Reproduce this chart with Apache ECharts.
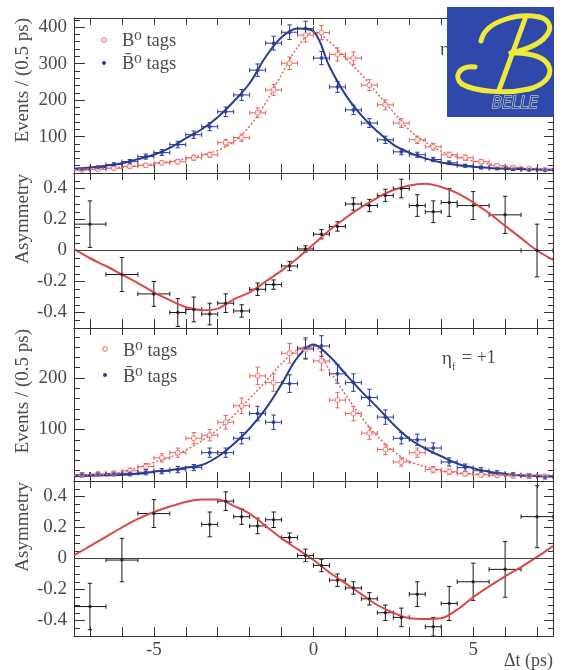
<!DOCTYPE html>
<html><head><meta charset="utf-8">
<script src="https://cdn.jsdelivr.net/npm/echarts@6/dist/echarts.min.js"></script>
<style>html,body{margin:0;padding:0;background:#fff}#c{width:577px;height:670px}</style>
</head><body><div id="c"></div>
<script>
// ---------- data ----------
const binX = [-7.25,-6.75,-6.25,-5.75,-5.25,-4.75,-4.25,-3.75,-3.25,-2.75,-2.25,-1.75,-1.25,-0.75,-0.25,0.25,0.75,1.25,1.75,2.25,2.75,3.25,3.75,4.25,4.75,5.25,5.75,6.25,6.75,7.25];
const binHalf = 0.25;
const curveX = [-7.5,-7,-6.5,-6,-5.5,-5,-4.5,-4,-3.5,-3,-2.5,-2,-1.5,-1,-0.5,0,0.5,1,1.5,2,2.5,3,3.5,4,4.5,5,5.5,6,6.5,7,7.5];

// panel 1 (eta_f = -1) events
const p1Red     = [8,10,13,18,21,28,31,42,50,83,97,165,228,301,378,385,325,315,241,187,137,91,72,50,42,31,20,15,12,9];
const p1RedErr  = [3,3,4,4,5,5,6,7,7,9,10,13,15,17,19,19,18,17,15,14,12,10,9,7,7,6,5,4,4,3];
const p1Blue    = [10,15,23,31,45,56,78,105,127,168,214,282,356,386,396,315,236,173,137,91,58,50,37,28,20,15,12,10,9,8];
const p1BlueErr = [3,4,5,6,7,8,9,10,11,13,15,17,19,20,20,18,15,13,12,10,8,7,6,5,4,4,3,3,3,3];
const p1RedFit  = [9,11,13,16,20,25,31,39,49,62,86,128,192,270,345,386,360,315,270,218,167,118,85,60,44,33,25,19,15,12,10];
const p1BlueFit = [12,15,20,27,38,50,69,95,120,153,196,246,318,372,396,388,292,215,158,114,78,56,40,29,22,17,14,12,11,10,9];

// panel 2 asymmetry
const p2X    = [-7,-6,-5,-4.25,-3.75,-3.25,-2.75,-2.25,-1.75,-1.25,-0.75,-0.25,0.25,0.75,1.25,1.75,2.25,2.75,3.25,3.75,4.25,5,6,7];
const p2Half = [0.5,0.5,0.5,0.25,0.25,0.25,0.25,0.25,0.25,0.25,0.25,0.25,0.25,0.25,0.25,0.25,0.25,0.25,0.25,0.25,0.25,0.5,0.5,0.5];
const p2Asym = [0.17,-0.155,-0.28,-0.40,-0.38,-0.41,-0.34,-0.39,-0.25,-0.22,-0.10,0.01,0.105,0.155,0.30,0.29,0.355,0.40,0.29,0.25,0.31,0.29,0.23,0.0];
const p2Err  = [0.15,0.11,0.08,0.09,0.08,0.07,0.06,0.04,0.04,0.03,0.03,0.02,0.03,0.03,0.04,0.04,0.04,0.06,0.07,0.07,0.09,0.09,0.12,0.17];
const p2Fit  = [0.01,-0.05,-0.10,-0.155,-0.21,-0.27,-0.32,-0.365,-0.385,-0.375,-0.315,-0.27,-0.20,-0.13,-0.05,0.04,0.13,0.21,0.28,0.34,0.39,0.42,0.43,0.41,0.37,0.31,0.24,0.16,0.08,0.0,-0.06];

// panel 3 (eta_f = +1) events
const p3Red     = [12,13,15,20,28,45,55,83,89,114,146,204,191,248,255,233,157,131,93,61,37,55,22,18,14,12,11,10,10,9];
const p3RedErr  = [4,4,4,5,6,8,9,11,11,13,15,17,17,19,19,18,15,14,12,10,8,9,6,5,4,4,4,4,4,3];
const p3Blue    = [12,13,14,15,17,19,22,26,55,55,83,131,114,189,258,262,208,191,162,124,83,80,64,37,26,20,15,12,10,8];
const p3BlueErr = [4,4,4,5,5,5,6,6,9,9,11,14,14,17,20,20,18,17,16,14,11,11,10,8,7,6,5,4,4,4];
const p3RedFit  = [11,12,13,17,26,36,46,60,78,100,127,160,193,228,255,262,215,168,124,87,58,38,28,20,16,14,13,12,12,11,11];
const p3BlueFit = [9,10,11,12,14,18,21,26,31,47,72,102,140,188,240,265,242,208,174,143,110,82,63,48,34,25,18,14,11,10,9];

// panel 4 asymmetry
const p4X    = [-7,-6,-5,-3.25,-2.75,-2.25,-1.75,-1.25,-0.75,-0.25,0.25,0.75,1.25,1.75,2.25,2.75,3.25,3.75,4.25,5,6,7];
const p4Half = [0.5,0.5,0.5,0.25,0.25,0.25,0.25,0.25,0.25,0.25,0.25,0.25,0.25,0.25,0.25,0.25,0.25,0.25,0.25,0.5,0.5,0.5];
const p4Asym = [-0.31,-0.01,0.29,0.22,0.37,0.27,0.21,0.25,0.135,0.02,-0.045,-0.14,-0.19,-0.26,-0.35,-0.38,-0.23,-0.44,-0.29,-0.15,-0.07,0.27];
const p4Err  = [0.15,0.14,0.09,0.08,0.06,0.05,0.05,0.05,0.03,0.04,0.04,0.04,0.04,0.04,0.05,0.06,0.08,0.06,0.11,0.12,0.18,0.2];
const p4Fit  = [0.02,0.08,0.14,0.20,0.255,0.30,0.335,0.365,0.38,0.38,0.34,0.29,0.21,0.13,0.06,-0.01,-0.09,-0.16,-0.23,-0.30,-0.35,-0.385,-0.39,-0.385,-0.33,-0.25,-0.18,-0.115,-0.055,0.01,0.08];

// ticks / labels
const xTickVals  = [-7,-6,-5,-4,-3,-2,-1,0,1,2,3,4,5,6,7];
const xLabelVals = [-5,0,5];
const ev1Major = [0,100,200,300,400];
const ev1Minor = [20,40,60,80,120,140,160,180,220,240,260,280,320,340,360,380,420];
const ev1Labels = [100,200,300,400];
const ev3Major = [0,100,200];
const ev3Minor = [20,40,60,80,120,140,160,180,220,240,260,280];
const ev3Labels = [100,200];
const asMajor = [-0.4,-0.2,0,0.2,0.4];
const asMinor = [-0.45,-0.35,-0.3,-0.25,-0.15,-0.1,-0.05,0.05,0.1,0.15,0.25,0.3,0.35,0.45];
const asLabels = [-0.4,-0.2,0,0.2,0.4];

// ---------- style ----------
const serif = "'Liberation Serif','DejaVu Serif',serif";
const AX = '#333';
const LBL = '#4a4a4a';
const RED = '#e2645e';
const BLUE = '#2b3b92';
const FITRED = '#d8484a';
const BLK = '#1a1a1a';
const YEL = '#eeea3a';

const grids = [
  {left:74, right:24, top:18, height:155},
  {left:74, right:24, top:173, height:155},
  {left:74, right:24, top:328, height:153},
  {left:74, right:24, top:481, height:155}
];
const yRanges = [[0,425],[-0.5,0.5],[0,297],[-0.5,0.5]];
const yTickSets = [[ev1Major,ev1Minor,ev1Labels],[asMajor,asMinor,asLabels],[ev3Major,ev3Minor,ev3Labels],[asMajor,asMinor,asLabels]];

const xAxis = [], yAxis = [];
grids.forEach((g,i)=>{
  xAxis.push({type:'value', gridIndex:i, position:'bottom', min:-7.5, max:7.5,
    axisLine:{show:true,onZero:false,lineStyle:{color:AX,width:1}},
    axisTick:{show:true,inside:true,length:9,customValues:xTickVals,lineStyle:{color:AX}},
    axisLabel:{show:i===3,customValues:xLabelVals,margin:5,fontFamily:serif,fontSize:19,color:LBL},
    splitLine:{show:false}});
  xAxis.push({type:'value', gridIndex:i, position:'top', min:-7.5, max:7.5,
    axisLine:{show:true,onZero:false,lineStyle:{color:AX,width:1}},
    axisTick:{show:true,inside:true,length:7,customValues:xTickVals,lineStyle:{color:AX}},
    axisLabel:{show:false}, splitLine:{show:false}});
  const [mn,mx] = yRanges[i];
  const [maj,minr,lab] = yTickSets[i];
  const mk = (pos,ticks,len,labels)=>({type:'value', gridIndex:i, position:pos, min:mn, max:mx,
    axisLine:{show:true,onZero:false,lineStyle:{color:AX,width:1}},
    axisTick:{show:true,inside:true,length:len,customValues:ticks,lineStyle:{color:AX}},
    axisLabel: labels ? {show:true,customValues:labels,margin:7,fontFamily:serif,fontSize:19,color:LBL} : {show:false},
    splitLine:{show:false}});
  yAxis.push(mk('left',maj,11,lab));
  yAxis.push(mk('left',minr,6,null));
  yAxis.push(mk('right',maj,9,null));
  yAxis.push(mk('right',minr,5,null));
});

function errBars(gi, xs, ys, xh, yh, color){
  const data = xs.map((x,k)=>[x, ys[k], x-(Array.isArray(xh)?xh[k]:xh), x+(Array.isArray(xh)?xh[k]:xh), ys[k]-yh[k], ys[k]+yh[k]]);
  return {type:'custom', xAxisIndex:gi*2, yAxisIndex:gi*4, data, silent:true, z:3, clip:true,
    encode:{x:[0,2,3], y:[1,4,5]},
    renderItem(params, api){
      const x=api.value(0), y=api.value(1);
      const l=api.coord([api.value(2),y]), r=api.coord([api.value(3),y]);
      const b=api.coord([x,api.value(4)]), t=api.coord([x,api.value(5)]);
      const st={stroke:color,lineWidth:1};
      const c=2.2;
      return {type:'group', children:[
        {type:'line',shape:{x1:l[0],y1:l[1],x2:r[0],y2:r[1]},style:st},
        {type:'line',shape:{x1:b[0],y1:b[1],x2:t[0],y2:t[1]},style:st},
        {type:'line',shape:{x1:l[0],y1:l[1]-c,x2:l[0],y2:l[1]+c},style:st},
        {type:'line',shape:{x1:r[0],y1:r[1]-c,x2:r[0],y2:r[1]+c},style:st},
        {type:'line',shape:{x1:b[0]-c,y1:b[1],x2:b[0]+c,y2:b[1]},style:st},
        {type:'line',shape:{x1:t[0]-c,y1:t[1],x2:t[0]+c,y2:t[1]},style:st}
      ]};
    }};
}
function fitLine(gi, vals, color, width, dash, extra){
  return Object.assign({type:'line', xAxisIndex:gi*2, yAxisIndex:gi*4, data:curveX.map((x,k)=>[x,vals[k]]),
    smooth:0.35, showSymbol:false, silent:true, z:4,
    lineStyle:{color, width, type:dash}}, extra||{});
}
function pts(gi, xs, ys, open, color, size){
  return {type:'scatter', xAxisIndex:gi*2, yAxisIndex:gi*4, data:xs.map((x,k)=>[x,ys[k]]), symbol:'circle',
    symbolSize:size, silent:true, z:5,
    itemStyle: open ? {color:'#fff',borderColor:color,borderWidth:1} : {color}};
}
const zeroMark = {silent:true, symbol:'none', data:[{yAxis:0}], label:{show:false},
  lineStyle:{color:'#444',width:1,type:'solid'}, animation:false};

const series = [
  fitLine(0,p1BlueFit,BLUE,2,'solid'),
  fitLine(0,p1RedFit,RED,1.5,[2,2]),
  errBars(0,binX,p1Red,binHalf,p1RedErr,RED),
  errBars(0,binX,p1Blue,binHalf,p1BlueErr,BLUE),
  pts(0,binX,p1Red,true,RED,5),
  pts(0,binX,p1Blue,false,BLUE,4),

  fitLine(1,p2Fit,FITRED,2,'solid',{markLine:zeroMark}),
  errBars(1,p2X,p2Asym,p2Half,p2Err,BLK),
  pts(1,p2X,p2Asym,false,BLK,3.5),

  fitLine(2,p3BlueFit,BLUE,2,'solid'),
  fitLine(2,p3RedFit,RED,1.5,[2,2]),
  errBars(2,binX,p3Red,binHalf,p3RedErr,RED),
  errBars(2,binX,p3Blue,binHalf,p3BlueErr,BLUE),
  pts(2,binX,p3Red,true,RED,5),
  pts(2,binX,p3Blue,false,BLUE,4),

  fitLine(3,p4Fit,FITRED,2,'solid',{markLine:zeroMark}),
  errBars(3,p4X,p4Asym,p4Half,p4Err,BLK),
  pts(3,p4X,p4Asym,false,BLK,3.5)
];

function txt(x,y,text,size,extra){
  return Object.assign({type:'text', x, y, z:50, style:Object.assign({text, fontFamily:serif, fontSize:size, fill:LBL,
    align:'left', textAlign:'left', verticalAlign:'middle', textVerticalAlign:'middle'}, (extra&&extra.style)||{})},
    extra&&extra.el||{});
}
function bz(a){
  return {type:'bezierCurve', z:101, shape:{x1:a[0],y1:a[1],cpx1:a[2],cpy1:a[3],cpx2:a[4],cpy2:a[5],x2:a[6],y2:a[7]},
    style:{stroke:YEL,lineWidth:5,fill:null,lineCap:'round'}};
}
const R90 = Math.PI/2;
const graphic = [
  txt(23,18,'Events / (0.5 ps)',19,{style:{align:'right',textAlign:'right'},el:{rotation:R90}}),
  txt(23,174,'Asymmetry',19,{style:{align:'right',textAlign:'right'},el:{rotation:R90}}),
  txt(23,329,'Events / (0.5 ps)',19,{style:{align:'right',textAlign:'right'},el:{rotation:R90}}),
  txt(23,482,'Asymmetry',19,{style:{align:'right',textAlign:'right'},el:{rotation:R90}}),
  txt(553,661,'\u0394t (ps)',18,{style:{align:'right',textAlign:'right'}}),
  // legends
  {type:'circle', z:50, shape:{cx:104,cy:40,r:2.3}, style:{fill:'#fff',stroke:RED,lineWidth:1}},
  {type:'circle', z:50, shape:{cx:104,cy:63,r:2}, style:{fill:BLUE}},
  txt(122,41,'B\u2070 tags',18.5),
  txt(122,64,'B\u0304\u2070 tags',18.5),
  {type:'circle', z:50, shape:{cx:105,cy:349,r:2.3}, style:{fill:'#fff',stroke:RED,lineWidth:1}},
  {type:'circle', z:50, shape:{cx:105,cy:375,r:2}, style:{fill:BLUE}},
  txt(123,351,'B\u2070 tags',18.5),
  txt(123,377,'B\u0304\u2070 tags',18.5),
  // eta_f labels
  txt(442,359,'\u03b7',19),
  txt(452,367,'f',10),
  txt(462,358,'= +1',18),
  txt(440,50,'\u03b7',19),
  // Belle logo
  {type:'rect', z:100, shape:{x:447,y:7,width:107,height:110}, style:{fill:'#2e49ab'}},
  {type:'group', x:447, y:7, z:101, children:[
    bz([34,34,38,14,70,6,92,10]),
    bz([92,10,110,14,108,36,64,46]),
    bz([64,46,110,44,114,74,82,82]),
    bz([82,82,60,87,28,85,15,77]),
    bz([15,77,6,70,12,58,28,60]),
    {type:'line', z:101, shape:{x1:78,y1:12,x2:52,y2:83}, style:{stroke:YEL,lineWidth:5,lineCap:'round'}},
    {type:'text', z:101, x:68, y:97, style:{text:'BELLE', fontFamily:"'DejaVu Sans',sans-serif", fontStyle:'italic', fontSize:15,
      fill:'#2e49ab', stroke:'#f2f2b8', lineWidth:1, align:'center', textAlign:'center', verticalAlign:'middle', textVerticalAlign:'middle'}}
  ]}
];

const chart = echarts.init(document.getElementById('c'), null, {renderer:'canvas'});
chart.setOption({animation:false, backgroundColor:'#fff', grid:grids, xAxis, yAxis, series, graphic});
</script>
</body></html>
